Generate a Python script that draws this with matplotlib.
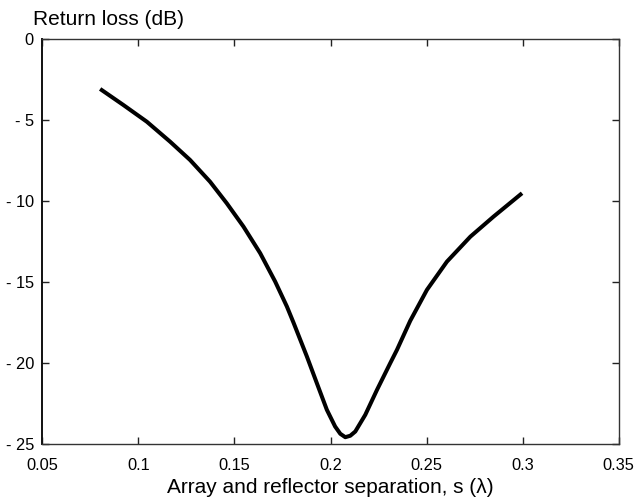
import matplotlib
matplotlib.use("Agg")
import matplotlib.pyplot as plt

plt.rcParams['font.family'] = ['Liberation Sans', 'DejaVu Sans']

# Data
separation = [0.0801, 0.0922, 0.1044, 0.1165, 0.1269, 0.1373, 0.1460, 0.1547,
              0.1634, 0.1712, 0.1773, 0.1807, 0.1877, 0.1929, 0.1981, 0.2024,
              0.2051, 0.2077, 0.2103, 0.2129, 0.2181, 0.2242, 0.2311, 0.2346,
              0.2415, 0.2502, 0.2606, 0.2728, 0.2849, 0.2997]
return_loss = [-3.10, -4.09, -5.12, -6.35, -7.48, -8.82, -10.15, -11.59,
               -13.23, -14.98, -16.52, -17.50, -19.60, -21.25, -22.89, -23.92,
               -24.37, -24.58, -24.49, -24.23, -23.20, -21.66, -20.01, -19.19,
               -17.40, -15.49, -13.75, -12.21, -10.97, -9.53]

xticks = [0.05, 0.1, 0.15, 0.2, 0.25, 0.3, 0.35]
xticklabels = ['0.05', '0.1', '0.15', '0.2', '0.25', '0.3', '0.35']
yticks = [0, -5, -10, -15, -20, -25]
yticklabels = ['0', '- 5', '- 10', '- 15', '- 20', '- 25']

fig = plt.figure(figsize=(6.37, 5.03), dpi=100)
ax = fig.add_axes([42.3/637, 1-444.0/503, (618.7-42.3)/637, (444.0-38.7)/503])

ax.plot(separation, return_loss, color='black', lw=2.9,
        solid_joinstyle='round', solid_capstyle='butt')

ax.set_xlim(0.05, 0.35)
ax.set_ylim(-25, 0)
ax.set_xticks(xticks)
ax.set_xticklabels(xticklabels)
ax.set_yticks(yticks)
ax.set_yticklabels(yticklabels)

ax.tick_params(axis='both', direction='in', length=5, width=1, color='#222222',
               top=True, right=True, labelsize=11.8)
ax.tick_params(axis='x', pad=10)
ax.tick_params(axis='y', pad=6)

for side, sp in ax.spines.items():
    sp.set_color('#333333')
    sp.set_linewidth(1.0)
ax.spines['left'].set_linewidth(1.4)
ax.spines['left'].set_color('#111111')

ax.set_xlabel('Array and reflector separation, s (\u03bb)', fontsize=15, labelpad=4)
fig.text(33/637, 1-25/503, 'Return loss (dB)', fontsize=15, ha='left', va='baseline')

fig.savefig('out.png', dpi=100)
